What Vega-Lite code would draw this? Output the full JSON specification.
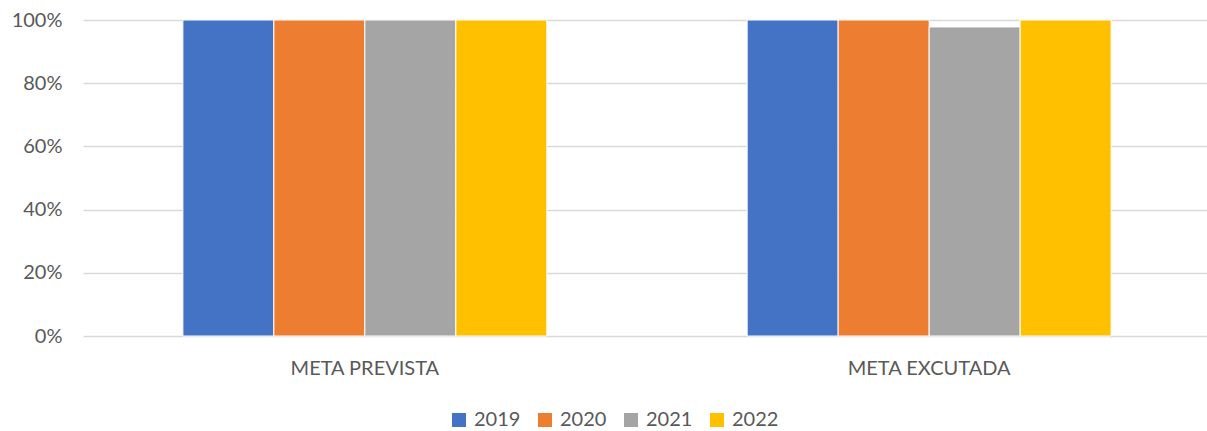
{
  "$schema": "https://vega.github.io/schema/vega-lite/v6.json",
  "width": 1128,
  "height": 316,
  "autosize": "none",
  "padding": {"left": 83, "top": 20, "right": 0, "bottom": 95},
  "background": "white",
  "config": {
    "view": {"stroke": null},
    "font": "Lato"
  },
  "data": {
    "values": [
      {"categoria": "META PREVISTA", "ano": "2019", "valor": 1.0},
      {"categoria": "META PREVISTA", "ano": "2020", "valor": 1.0},
      {"categoria": "META PREVISTA", "ano": "2021", "valor": 1.0},
      {"categoria": "META PREVISTA", "ano": "2022", "valor": 1.0},
      {"categoria": "META EXCUTADA", "ano": "2019", "valor": 1.0},
      {"categoria": "META EXCUTADA", "ano": "2020", "valor": 1.0},
      {"categoria": "META EXCUTADA", "ano": "2021", "valor": 0.978},
      {"categoria": "META EXCUTADA", "ano": "2022", "valor": 1.0}
    ]
  },
  "mark": {"type": "bar", "stroke": "white", "strokeWidth": 1},
  "encoding": {
    "x": {
      "field": "categoria",
      "type": "nominal",
      "sort": ["META PREVISTA", "META EXCUTADA"],
      "scale": {"paddingInner": 0.355, "paddingOuter": 0.177},
      "axis": {
        "title": null,
        "labelAngle": 0,
        "domain": false,
        "ticks": false,
        "labelFontSize": 20,
        "labelColor": "#595959",
        "labelPadding": 22
      }
    },
    "xOffset": {"field": "ano", "type": "nominal"},
    "y": {
      "field": "valor",
      "type": "quantitative",
      "scale": {"domain": [0, 1], "nice": false},
      "axis": {
        "title": null,
        "format": ".0%",
        "values": [0, 0.2, 0.4, 0.6, 0.8, 1.0],
        "domain": false,
        "ticks": false,
        "gridColor": "#d9d9d9",
        "gridWidth": 1.5,
        "labelFontSize": 20,
        "labelColor": "#595959",
        "labelPadding": 21
      }
    },
    "color": {
      "field": "ano",
      "type": "nominal",
      "scale": {
        "domain": ["2019", "2020", "2021", "2022"],
        "range": ["#4472c4", "#ed7d31", "#a5a5a5", "#ffc000"]
      },
      "legend": {
        "title": null,
        "orient": "none",
        "direction": "horizontal",
        "legendX": 366,
        "legendY": 390,
        "symbolType": "square",
        "symbolSize": 196,
        "symbolStrokeWidth": 0,
        "symbolOpacity": 1,
        "labelFontSize": 20,
        "labelColor": "#595959",
        "labelOffset": 5,
        "columnPadding": 14
      }
    }
  }
}
